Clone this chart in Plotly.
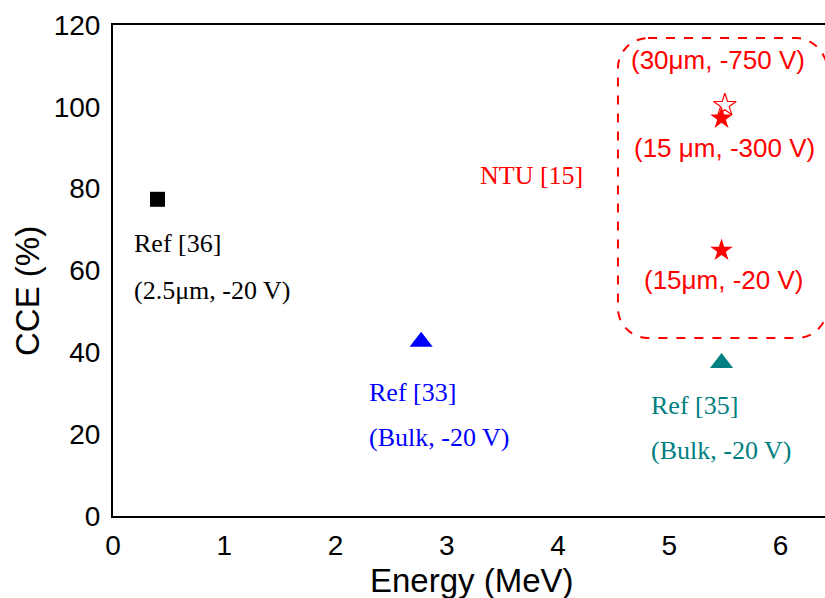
import plotly.graph_objects as go

# ---- data ----
ref36_energy = [0.40]
ref36_cce = [77.4]
ref33_energy = [2.77]
ref33_cce = [42.6]
ref35_energy = [5.47]
ref35_cce = [37.4]
ntu_filled_energy = [5.47, 5.47]
ntu_filled_cce = [97.2, 64.9]
ntu_open_energy = [5.50]
ntu_open_cce = [100.4]

x_ticks = [0, 1, 2, 3, 4, 5, 6]
y_ticks = [0, 20, 40, 60, 80, 100, 120]

RED = "#FF0000"
BLUE = "#0000FF"
TEAL = "#008080"
SANS = "Arial, Liberation Sans, sans-serif"
SERIF = "Book Antiqua, Palatino Linotype, Liberation Serif, serif"

fig = go.Figure()
fig.add_trace(go.Scatter(x=ref36_energy, y=ref36_cce, mode="markers",
                         marker=dict(symbol="square", size=15, color="black"), cliponaxis=False))
fig.add_trace(go.Scatter(x=ref33_energy, y=ref33_cce, mode="markers",
                         marker=dict(symbol="triangle-up", size=20, color=BLUE), cliponaxis=False))
fig.add_trace(go.Scatter(x=ref35_energy, y=ref35_cce, mode="markers",
                         marker=dict(symbol="triangle-up", size=20, color=TEAL), cliponaxis=False))
fig.add_trace(go.Scatter(x=ntu_open_energy, y=ntu_open_cce, mode="markers",
                         marker=dict(symbol="star-open", size=17, color=RED, line=dict(width=1.2, color=RED)),
                         cliponaxis=False))
fig.add_trace(go.Scatter(x=ntu_filled_energy, y=ntu_filled_cce, mode="markers",
                         marker=dict(symbol="star", size=17, color=RED), cliponaxis=False))

# dashed rounded box around NTU points
x0, x1, y0, y1 = 4.539, 6.418, 43.5, 116.8
rx, ry = 0.27, 7.33
k = 0.45
path = (f"M {x0+rx},{y1} L {x1-rx},{y1} "
        f"C {x1-rx*k},{y1} {x1},{y1-ry*(1-k)} {x1},{y1-ry} "
        f"L {x1},{y0+ry} "
        f"C {x1},{y0+ry*k} {x1-rx*k},{y0} {x1-rx},{y0} "
        f"L {x0+rx},{y0} "
        f"C {x0+rx*k},{y0} {x0},{y0+ry*k} {x0},{y0+ry} "
        f"L {x0},{y1-ry} "
        f"C {x0},{y1-ry*k} {x0+rx*k},{y1} {x0+rx},{y1} Z")
fig.add_shape(type="path", path=path, xref="x", yref="y",
              line=dict(color=RED, width=2, dash="dash"), layer="below")

ann = []
def txt(x, y, s, color, family, size, xanchor="center"):
    ann.append(dict(x=x, y=y, xref="x", yref="y", text=s, showarrow=False,
                    font=dict(family=family, size=size, color=color),
                    xanchor=xanchor, yanchor="middle"))

txt(0.171, 66.5, "Ref [36]", "black", SERIF, 26, "left")
txt(0.171, 55.2, "(2.5μm, -20 V)", "black", SERIF, 26, "left")
txt(3.766, 83.3, "NTU [15]", RED, SERIF, 26)
txt(2.283, 30.3, "Ref [33]", BLUE, SERIF, 26, "left")
txt(2.283, 19.1, "(Bulk, -20 V)", BLUE, SERIF, 26, "left")
txt(4.818, 27.1, "Ref [35]", TEAL, SERIF, 26, "left")
txt(4.818, 16.1, "(Bulk, -20 V)", TEAL, SERIF, 26, "left")
txt(5.438, 111.4, "(30μm, -750 V)", RED, SANS, 26)
txt(5.497, 89.9, "(15 μm, -300 V)", RED, SANS, 26)
txt(5.488, 57.7, "(15μm, -20 V)", RED, SANS, 26)

ann.append(dict(x=0.504, y=-0.132, xref="paper", yref="paper", text="Energy (MeV)",
                showarrow=False, font=dict(family=SANS, size=33, color="black"),
                xanchor="center", yanchor="middle"))
ann.append(dict(x=-0.121, y=0.458, xref="paper", yref="paper", text="CCE (%)",
                showarrow=False, textangle=-90, font=dict(family=SANS, size=33, color="black"),
                xanchor="center", yanchor="middle"))

fig.update_layout(
    width=825, height=598,
    margin=dict(l=113, r=0, t=25, b=82),
    paper_bgcolor="white", plot_bgcolor="white",
    showlegend=False,
    annotations=ann,
    xaxis=dict(range=[0, 6.4], tickvals=x_ticks, ticktext=[str(v) for v in x_ticks],
               showgrid=False, zeroline=False, showline=True, linecolor="black", linewidth=2,
               mirror=True, ticks="", ticklabelstandoff=3,
               tickfont=dict(family=SANS, size=28, color="black")),
    yaxis=dict(range=[0, 120], tickvals=y_ticks, ticktext=[str(v) for v in y_ticks],
               showgrid=False, zeroline=False, showline=True, linecolor="black", linewidth=2,
               mirror=False, ticks="", ticklabelstandoff=5,
               tickfont=dict(family=SANS, size=28, color="black")),
)

fig.write_html("out.html")
